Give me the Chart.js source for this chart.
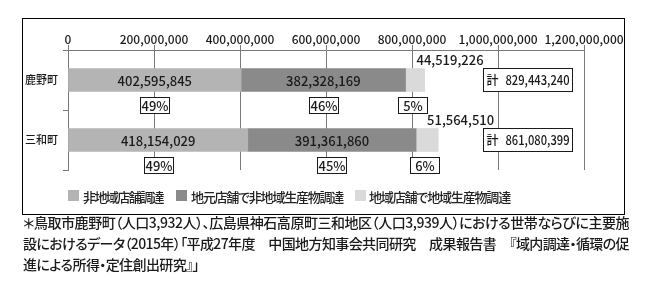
<!DOCTYPE html>
<html>
<head>
<meta charset="utf-8">
<script src="https://cdn.jsdelivr.net/npm/chart.js"></script>
<style>
  body { margin: 0; background: #fff; }
  #wrap { position: relative; width: 649px; height: 286px; overflow: hidden; background: #fff; }
  #chart { position: absolute; left: 0; top: 0; }
  .legend { position: absolute; top: 189px; font: 500 13px 'Noto Sans CJK JP', sans-serif; font-feature-settings: "palt"; color: #222; white-space: nowrap; line-height: 15px; }
  .sw { position: absolute; top: 190px; width: 11px; height: 11px; }
  .note { position: absolute; left: 23px; font: 500 14px 'Noto Sans CJK JP', sans-serif; font-feature-settings: "palt"; color: #1a1a1a; white-space: nowrap; line-height: 16px; }
</style>
</head>
<body>
<div id="wrap">
  <canvas id="chart" width="649" height="286"></canvas>
  <div class="sw" style="left:68px;background:#b4b4b4"></div>
  <div class="legend fit" data-w="80" style="left:83px">非地域店舗調達</div>
  <div class="sw" style="left:176px;background:#8a8a8a"></div>
  <div class="legend fit" data-w="152" style="left:191px">地元店舗で非地域生産物調達</div>
  <div class="sw" style="left:355px;background:#dadada"></div>
  <div class="legend fit" data-w="141" style="left:369px">地域店舗で地域生産物調達</div>
  <div class="note fit" data-w="606" style="top:214px">＊鳥取市鹿野町（人口3,932人）、広島県神石高原町三和地区（人口3,939人）における世帯ならびに主要施</div>
  <div class="note fit" data-w="606" style="top:235px">設におけるデータ（2015年）「平成27年度　中国地方知事会共同研究　成果報告書　『域内調達・循環の促</div>
  <div class="note fit" data-w="176" style="top:256px">進による所得・定住創出研究』」</div>
</div>
<script>
// Data
const towns = ['鹿野町', '三和町'];
const seriesNames = ['非地域店舗調達', '地元店舗で非地域生産物調達', '地域店舗で地域生産物調達'];
const nonLocal = [402595845, 418154029];
const localShopOutside = [382328169, 391361860];
const localShopLocal = [44519226, 51564510];
const pctNonLocal = [49, 49];
const pctLocalShopOutside = [46, 45];
const pctLocalShopLocal = [5, 6];
const totals = [829443240, 861080399];
const xTicks = [0, 200000000, 400000000, 600000000, 800000000, 1000000000, 1200000000];

const percents = [pctNonLocal, pctLocalShopOutside, pctLocalShopLocal];
const colors = ['#b4b4b4', '#8a8a8a', '#dadada'];
const numFont = "'Noto Sans CJK JP', sans-serif";

// Format numbers with commas
function numberWithCommas(x) {
    return x.toString().replace(/\B(?=(\d{3})+(?!\d))/g, ",");
}

// Outer frame round the chart and legend
const framePlugin = {
    id: 'outerFrame',
    afterDraw(chart) {
        const ctx = chart.ctx;
        ctx.save();
        ctx.strokeStyle = '#000';
        ctx.lineWidth = 1;
        ctx.strokeRect(22.5, 18.5, 602, 196);
        ctx.restore();
    }
};

// Draws the value labels, percent boxes and totals
const labelPlugin = {
    id: 'valueLabels',
    afterDatasetsDraw(chart) {
        const ctx = chart.ctx;
        const xs = chart.scales.x;
        ctx.save();
        ctx.fillStyle = '#1a1a1a';
        ctx.strokeStyle = '#1a1a1a';
        ctx.lineWidth = 1;
        chart.data.datasets.forEach((ds, i) => {
            const meta = chart.getDatasetMeta(i);
            meta.data.forEach((bar, j) => {
                const mid = (bar.x + bar.base) / 2;
                ctx.font = '500 13px ' + numFont;
                ctx.textBaseline = 'middle';
                if (i < 2) {
                    ctx.textAlign = 'center';
                    ctx.fillText(numberWithCommas(ds.data[j]), mid, bar.y + 1);
                } else {
                    ctx.textAlign = 'left';
                    ctx.textBaseline = 'alphabetic';
                    ctx.fillText(numberWithCommas(ds.data[j]), bar.base + 11, bar.y - bar.height / 2 - 4);
                }
                // percent box under the bar
                const t = percents[i][j] + '%';
                const cx = i === 2 ? mid - 3 : mid;
                const w = 29;
                const by = Math.round(bar.y + bar.height / 2 + 5) + 0.5;
                const bx = Math.round(cx - w / 2) + 0.5;
                ctx.fillStyle = '#fff';
                ctx.fillRect(bx, by, w, 16);
                ctx.strokeRect(bx, by, w, 16);
                ctx.fillStyle = '#1a1a1a';
                ctx.textAlign = 'center';
                ctx.textBaseline = 'middle';
                ctx.fillText(t, bx + w / 2, by + 8.5);
            });
        });
        // total boxes
        const meta0 = chart.getDatasetMeta(0);
        meta0.data.forEach((bar, j) => {
            const cx = xs.getPixelForValue(1068000000);
            const w = 89;
            const bx = Math.round(cx - w / 2) + 0.5;
            const by = Math.round(bar.y - 12) + 0.5;
            ctx.fillStyle = '#fff';
            ctx.fillRect(bx, by, w, 23);
            ctx.strokeRect(bx, by, w, 23);
            ctx.fillStyle = '#1a1a1a';
            ctx.textBaseline = 'middle';
            ctx.font = '500 12px ' + numFont;
            ctx.textAlign = 'left';
            ctx.fillText('計', bx + 3, by + 12);
            ctx.font = '500 13px ' + numFont;
            ctx.textAlign = 'right';
            ctx.fillText(numberWithCommas(totals[j]), bx + w - 3, by + 12, 64);
        });
        ctx.restore();
    }
};

const ctx = document.getElementById('chart').getContext('2d');
new Chart(ctx, {
    type: 'bar',
    data: {
        labels: towns,
        datasets: [
            { label: seriesNames[0], data: nonLocal, backgroundColor: colors[0] },
            { label: seriesNames[1], data: localShopOutside, backgroundColor: colors[1] },
            { label: seriesNames[2], data: localShopLocal, backgroundColor: colors[2] }
        ]
    },
    options: {
        indexAxis: 'y',
        responsive: false,
        animation: false,
        devicePixelRatio: 1,
        barThickness: 23,
        layout: { padding: { left: 0, top: 0, right: 65, bottom: 116 } },
        scales: {
            x: {
                position: 'top',
                stacked: true,
                min: 0,
                max: 1200000000,
                afterBuildTicks: scale => { scale.ticks = xTicks.map(v => ({ value: v })); },
                afterFit: scale => { scale.height = 50; },
                ticks: {
                    color: '#1a1a1a',
                    font: { family: numFont, size: 12, weight: '500' },
                    padding: -2,
                    maxRotation: 0,
                    callback: v => numberWithCommas(v)
                },
                grid: { color: '#7a7a7a', lineWidth: 1, tickLength: 5 },
                border: { color: '#7a7a7a' }
            },
            y: {
                stacked: true,
                afterFit: scale => { scale.width = 68; },
                ticks: {
                    color: '#1a1a1a',
                    font: { family: "'Noto Sans CJK JP', sans-serif", size: 11, weight: '500' },
                    padding: 5
                },
                grid: { drawOnChartArea: false, color: '#7a7a7a', tickLength: 5 },
                border: { color: '#7a7a7a' }
            }
        },
        plugins: {
            legend: { display: false },
            tooltip: { enabled: false }
        }
    },
    plugins: [labelPlugin, framePlugin]
});

// Spread the legend and footnote texts to their measured widths
document.fonts.ready.then(() => {
    document.querySelectorAll('.fit').forEach(el => {
        const target = +el.dataset.w;
        const n = el.textContent.length;
        const w = el.getBoundingClientRect().width;
        el.style.letterSpacing = ((target - w) / n) + 'px';
    });
});
</script>
</body>
</html>
